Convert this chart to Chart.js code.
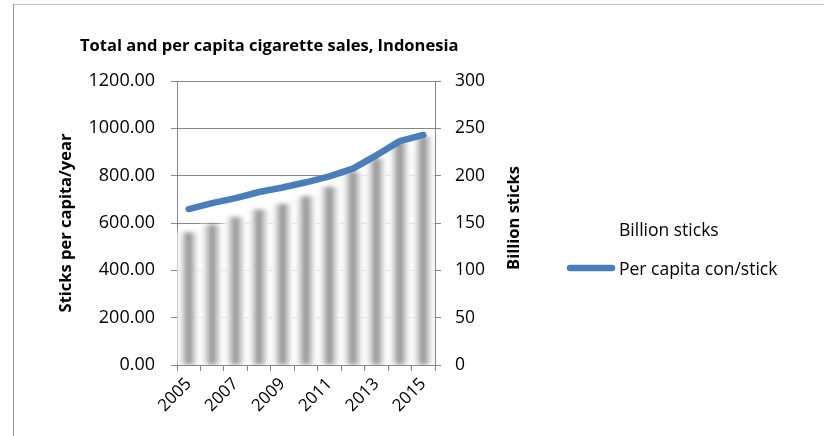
<!DOCTYPE html>
<html>
<head>
<meta charset="utf-8">
<title>Cigarette sales, Indonesia</title>
<script src="https://cdn.jsdelivr.net/npm/chart.js@4.4.1/dist/chart.umd.min.js"></script>
<style>
  html, body { margin: 0; padding: 0; background: #fff; }
  canvas { display: block; }
</style>
</head>
<body>
<canvas id="salesChart" width="824" height="436"></canvas>
<script>
'use strict';

let years = ['2005', '2006', '2007', '2008', '2009', '2010', '2011', '2012', '2013', '2014', '2015'];
let perCapita = [659, 684, 705, 731, 750, 772, 797, 830, 886, 946, 972];
let billionSticks = [140, 148, 156, 164, 170, 178, 188, 204, 218, 236, 241];
let leftTicks = [0, 200, 400, 600, 800, 1000, 1200];
let rightTicks = [0, 50, 100, 150, 200, 250, 300];

let chartTitle = 'Total and per capita cigarette sales, Indonesia';
let leftTitle = 'Sticks per capita/year';
let rightTitle = 'Billion sticks';
let barLabel = 'Billion sticks';
let lineLabel = 'Per capita con/stick';

let fontName = "'Open Sans', sans-serif";
let axisGray = '#878787';
let lineBlue = '#4a7ebb';

let ctx = document.getElementById('salesChart').getContext('2d');
Chart.defaults.font.family = fontName;
Chart.defaults.color = '#000';

// grey cylinder shading across each bar's category slot
function barShade (c) {
  let chart = c.chart;
  let x = chart.scales.x;
  if (!x || c.dataIndex === undefined) return '#999';
  let cx = x.getPixelForValue(c.dataIndex);
  let half = x.width / years.length / 2;
  if (!isFinite(cx) || !isFinite(half) || half <= 0) return '#999';
  let g = chart.ctx.createLinearGradient(cx - half, 0, cx + half, 0);
  g.addColorStop(0, '#ffffff');
  g.addColorStop(0.16, '#f0f0f0');
  g.addColorStop(0.5, '#8c8c8c');
  g.addColorStop(0.84, '#f0f0f0');
  g.addColorStop(1, '#ffffff');
  return g;
}

// outer frame, title, right axis title and legend
let decorations = {
  id: 'decorations',
  beforeDatasetDraw (chart, args) {
    if (args.meta.type === 'bar') {
      chart.ctx.save();
      chart.ctx.filter = 'blur(2.2px)';
    }
  },
  afterDatasetDraw (chart, args) {
    if (args.meta.type === 'bar') chart.ctx.restore();
  },
  afterDraw (chart) {
    let c = chart.ctx;
    c.save();
    c.lineWidth = 1;
    c.strokeStyle = '#c0c0c0';
    c.beginPath();
    c.moveTo(13, 4.5);
    c.lineTo(824, 4.5);
    c.stroke();
    c.strokeStyle = '#9a9a9a';
    c.beginPath();
    c.moveTo(13.5, 4);
    c.lineTo(13.5, 436);
    c.stroke();

    c.fillStyle = '#000';
    c.textBaseline = 'alphabetic';
    c.textAlign = 'left';
    c.font = 'bold 16.5px ' + fontName;
    c.fillText(chartTitle, 80, 51);

    c.save();
    c.translate(514, (chart.chartArea.top + chart.chartArea.bottom) / 2 - 5);
    c.rotate(-Math.PI / 2);
    c.textAlign = 'center';
    c.textBaseline = 'middle';
    c.font = 'bold 16.5px ' + fontName;
    c.fillText(rightTitle, 0, 0);
    c.restore();

    let sets = chart.data.datasets;
    c.font = '17.5px ' + fontName;
    c.fillText(sets[0].label, 619, 236);
    c.strokeStyle = sets[1].borderColor;
    c.lineWidth = 6.5;
    c.lineCap = 'round';
    c.beginPath();
    c.moveTo(570, 268);
    c.lineTo(612, 268);
    c.stroke();
    c.fillText(sets[1].label, 619, 275);
    c.restore();
  }
};

function drawChart () {
  let chart = new Chart(ctx, {
    data: {
      labels: years,
      datasets: [{
        type: 'bar',
        label: barLabel,
        data: billionSticks,
        yAxisID: 'y1',
        order: 1,
        backgroundColor: barShade,
        borderWidth: 0,
        barPercentage: 1,
        categoryPercentage: 1
      }, {
        type: 'line',
        label: lineLabel,
        data: perCapita,
        yAxisID: 'y',
        order: 0,
        borderColor: lineBlue,
        borderWidth: 6.5,
        borderCapStyle: 'round',
        borderJoinStyle: 'round',
        pointRadius: 0,
        tension: 0
      }]
    },
    options: {
      responsive: false,
      animation: false,
      layout: { padding: { left: 14, top: 81, right: 279, bottom: 0 } },
      plugins: {
        legend: { display: false },
        title: { display: false },
        tooltip: { enabled: false }
      },
      scales: {
        x: {
          offset: true,
          afterFit (s) { s.height = 71; },
          grid: { offset: true, drawOnChartArea: false, tickLength: 6, color: axisGray },
          border: { color: axisGray },
          ticks: {
            autoSkip: false,
            maxRotation: 45,
            minRotation: 45,
            padding: 3,
            font: { size: 17 },
            callback: (v, i) => i % 2 === 0 ? years[i] : ''
          }
        },
        y: {
          position: 'left',
          min: 0,
          max: 1200,
          afterFit (s) { s.width = 163; },
          afterBuildTicks (s) { s.ticks = leftTicks.map(v => ({ value: v })); },
          grid: { color: axisGray, tickLength: 6 },
          border: { color: axisGray },
          ticks: {
            padding: 16,
            font: { size: 18 },
            callback: v => v.toFixed(2)
          },
          title: {
            display: true,
            text: leftTitle,
            font: { size: 16.5, weight: 'bold' },
            padding: { top: 42, bottom: 0 }
          }
        },
        y1: {
          position: 'right',
          min: 0,
          max: 300,
          afterFit (s) { s.width = 110; },
          afterBuildTicks (s) { s.ticks = rightTicks.map(v => ({ value: v })); },
          grid: { drawOnChartArea: false, color: axisGray, tickLength: 6 },
          border: { color: axisGray },
          ticks: {
            padding: 14,
            font: { size: 17.5 },
            callback: v => String(v)
          }
        }
      }
    },
    plugins: [decorations]
  });
}

drawChart();
</script>
</body>
</html>
